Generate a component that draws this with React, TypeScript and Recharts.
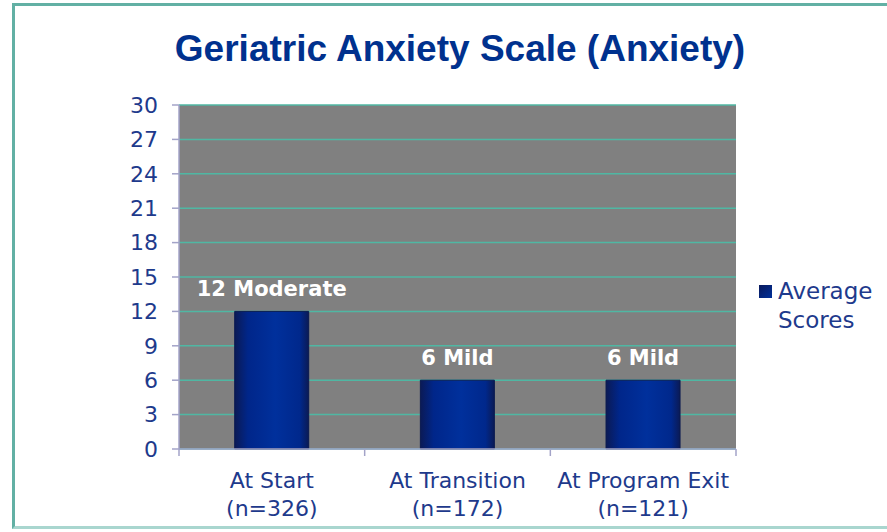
import React from "react";
import { BarChart, Bar, XAxis, YAxis, CartesianGrid, Legend, LabelList } from "recharts";

const categories = ["At Start", "At Transition", "At Program Exit"];
const sampleSizes = ["(n=326)", "(n=172)", "(n=121)"];
const averageScores = [12, 6, 6];
const scoreLabels = ["12 Moderate", "6 Mild", "6 Mild"];
const yTicks = [0, 3, 6, 9, 12, 15, 18, 21, 24, 27, 30];

const data = categories.map((c, i) => ({
  name: c,
  n: sampleSizes[i],
  score: averageScores[i],
  label: scoreLabels[i]
}));

const W = 887;
const H = 532;
const LEGEND_W = 128;
const M = { top: 105, right: 151 - LEGEND_W, bottom: 53, left: 0 };
const Y_W = 179;
const BAND = (W - 151 - Y_W) / categories.length;
const AXIS = "#a3a3c8";
const TEXT = "#1e3a8c";
const FONT = "'DejaVu Sans', sans-serif";

function XTick(props: any) {
  const { x, y, payload, index } = props;
  const row = data[index];
  return (
    <g>
      <line x1={x - BAND / 2} y1={y - 8} x2={x - BAND / 2} y2={y - 1} stroke={AXIS} strokeWidth={1.5} />
      {index === data.length - 1 && (
        <line x1={x + BAND / 2} y1={y - 8} x2={x + BAND / 2} y2={y - 1} stroke={AXIS} strokeWidth={1.5} />
      )}
      <text x={x} y={y + 31} textAnchor="middle" fill={TEXT} fontSize={22} fontFamily={FONT}>
        {payload.value}
      </text>
      <text x={x} y={y + 59} textAnchor="middle" fill={TEXT} fontSize={22} fontFamily={FONT}>
        {row ? row.n : ""}
      </text>
    </g>
  );
}

function ScoreLabel(props: any) {
  const { x, y, width, value } = props;
  return (
    <text
      x={x + width / 2}
      y={y - 15}
      textAnchor="middle"
      fill="#ffffff"
      fontSize={21}
      fontWeight="bold"
      fontFamily={FONT}
    >
      {value}
    </text>
  );
}

function LegendBox() {
  return (
    <div style={{ fontFamily: FONT, fontSize: 23, color: TEXT, lineHeight: "29px" }}>
      <div style={{ display: "flex", alignItems: "center" }}>
        <span
          style={{
            display: "inline-block",
            width: 13,
            height: 13,
            marginRight: 6,
            background: "linear-gradient(135deg, #0a1a5c, #00309a)"
          }}
        />
        Average
      </div>
      <div style={{ paddingLeft: 19 }}>Scores</div>
    </div>
  );
}

export default function App() {
  return (
    <div style={{ position: "absolute", left: 0, top: 0, width: W, height: H, background: "#fff", overflow: "hidden" }}>
      <div
        style={{
          position: "absolute",
          left: 12,
          top: 3,
          width: W + 20,
          height: H - 6,
          border: "3px solid #62b0a4",
          borderBottomColor: "#a9d6cf",
          boxSizing: "border-box"
        }}
      />
      <div
        style={{
          position: "absolute",
          left: 0,
          top: 27,
          width: 920,
          textAlign: "center",
          fontFamily: "'Liberation Sans', Arial, sans-serif",
          fontWeight: "bold",
          fontSize: 37,
          lineHeight: "44px",
          color: "#00318e"
        }}
      >
        Geriatric Anxiety Scale (Anxiety)
      </div>
      <div style={{ position: "absolute", left: 0, top: 0 }}>
        <BarChart width={W} height={H} data={data} margin={M} barCategoryGap="30%">
          <defs>
            <linearGradient id="barGrad" x1="0" y1="0" x2="1" y2="0">
              <stop offset="0%" stopColor="#0b1a55" />
              <stop offset="18%" stopColor="#00268a" />
              <stop offset="55%" stopColor="#00309c" />
              <stop offset="88%" stopColor="#00288c" />
              <stop offset="100%" stopColor="#0b1a55" />
            </linearGradient>
          </defs>
          <CartesianGrid vertical={false} stroke="#4fb7a3" strokeWidth={1.5} fill="#808080" fillOpacity={1} />
          <XAxis
            dataKey="name"
            interval={0}
            height={30}
            tickLine={false}
            axisLine={{ stroke: AXIS, strokeWidth: 1.5 }}
            tick={<XTick />}
          />
          <YAxis
            width={Y_W}
            domain={[0, 30]}
            ticks={yTicks}
            interval={0}
            tickSize={7}
            tickMargin={14}
            axisLine={{ stroke: AXIS, strokeWidth: 1.5 }}
            tickLine={{ stroke: AXIS, strokeWidth: 1.5 }}
            tick={{ fill: TEXT, fontSize: 22, fontFamily: FONT }}
          />
          <Legend
            layout="vertical"
            align="right"
            verticalAlign="top"
            wrapperStyle={{ position: "absolute", left: 759, top: 277, width: LEGEND_W }}
            content={<LegendBox />}
          />
          <Bar dataKey="score" name="Average Scores" fill="url(#barGrad)" stroke="#0a1a50" strokeWidth={1} isAnimationActive={false}>
            <LabelList dataKey="label" content={<ScoreLabel />} />
          </Bar>
        </BarChart>
      </div>
    </div>
  );
}
